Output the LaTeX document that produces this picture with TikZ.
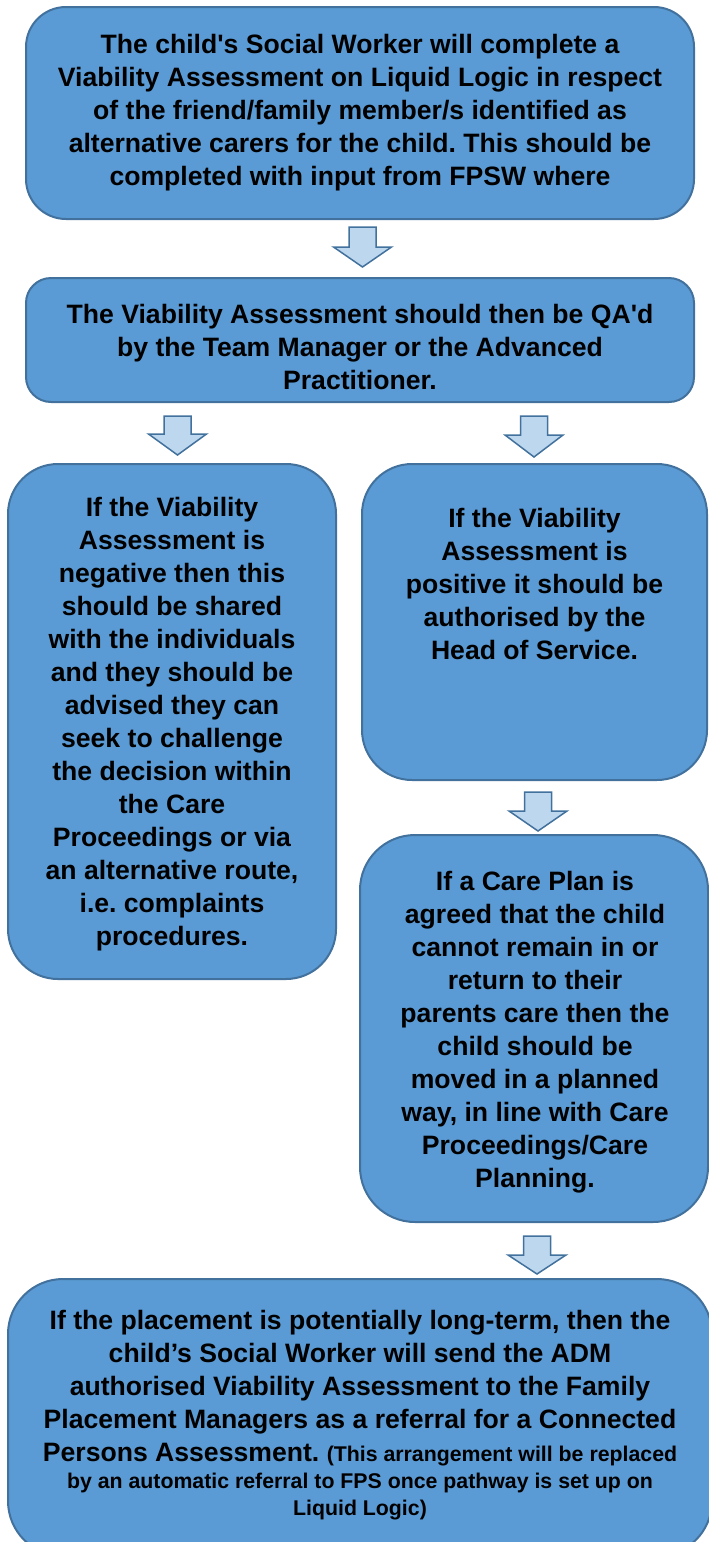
\documentclass[tikz,border=0pt]{standalone}
\usepackage{fontspec}
\newfontfamily\arialb{Liberation Sans}
\usetikzlibrary{calc}
\definecolor{boxfill}{HTML}{5B9BD5}
\definecolor{boxline}{HTML}{41719C}
\definecolor{arrfill}{HTML}{BDD7EE}
\frenchspacing
\newcommand{\blockarrow}[4]{%
  \draw[arrowstyle] (#1-13.5,#2) -- (#1+13.5,#2) -- (#1+13.5,#3) -- (#1+29,#3) -- (#1,#4) -- (#1-29,#3) -- (#1-13.5,#3) -- cycle;}
\newcommand{\smalltxt}{\fontsize{21.3}{27}\selectfont}
\begin{document}
\begin{tikzpicture}[x=1pt,y=-1pt,
  box/.style={draw=boxline, fill=boxfill, line width=2pt, rounded corners=#1, inner sep=0pt},
  box/.default=40pt,
  txt/.style={align=center, font=\arialb\fontsize{26.6}{33}\selectfont\bfseries\frenchspacing, inner sep=0pt, text=black},
  arrowstyle/.style={draw=boxline, fill=arrfill, line width=1.5pt, line join=miter}]
\useasboundingbox (0,0) rectangle (709,1542);
\clip (0,0) rectangle (709,1542);

% boxes
\node[box=40pt, minimum width=668pt, minimum height=212pt] (b1) at (360,113) {};
\node[box=25pt, minimum width=668pt, minimum height=124pt] (b2) at (360,340) {};
\node[box=50pt, minimum width=328pt, minimum height=515pt] (b3) at (172,721.5) {};
\node[box=50pt, minimum width=345pt, minimum height=316pt] (b4) at (534.5,622) {};
\node[box=55pt, minimum width=348pt, minimum height=387pt] (b5) at (534,1028.5) {};
\node[box=55pt, minimum width=704pt, minimum height=277pt] (b6) at (360,1417.5) {};

% texts
\node[txt] (t1) at (360,113) {The child's Social Worker will complete a\\Viability Assessment on Liquid Logic in respect\\of the friend/family member/s identified as\\alternative carers for the child. This should be\\completed with input from FPSW where};
\node[txt] (t2) at (360,346.5) {The Viability Assessment should then be QA'd\\by the Team Manager or the Advanced\\Practitioner.};
\node[txt] (t3) at (172,724.5) {If the Viability\\Assessment is\\negative then this\\should be shared\\with the individuals\\and they should be\\advised they can\\seek to challenge\\the decision within\\the Care\\Proceedings or via\\an alternative route,\\i.e. complaints\\procedures.};
\node[txt] (t4) at (534.5,584) {If the Viability\\Assessment is\\positive it should be\\authorised by the\\Head of Service.};
\node[txt] (t5) at (535,1032) {If a Care Plan is\\agreed that the child\\cannot remain in or\\return to their\\parents care then the\\child should be\\moved in a planned\\way, in line with Care\\Proceedings/Care\\Planning.};
\node[txt, anchor=north] (t6) at (360,1310) {If the placement is potentially long-term, then the\\child’s Social Worker will send the ADM\\authorised Viability Assessment to the Family\\Placement Managers as a referral for a Connected\\Persons Assessment. {\smalltxt(This arrangement will be replaced}\\[-6pt]{\smalltxt by an automatic referral to FPS once pathway is set up on}\\[-6pt]{\smalltxt Liquid Logic)}};

% block arrows
\blockarrow{362.5}{227}{247}{267}
\blockarrow{177.5}{416}{434}{455}
\blockarrow{534}{416}{435}{457}
\blockarrow{538}{792}{811}{831}
\blockarrow{537}{1236}{1255}{1274}
\end{tikzpicture}
\end{document}
